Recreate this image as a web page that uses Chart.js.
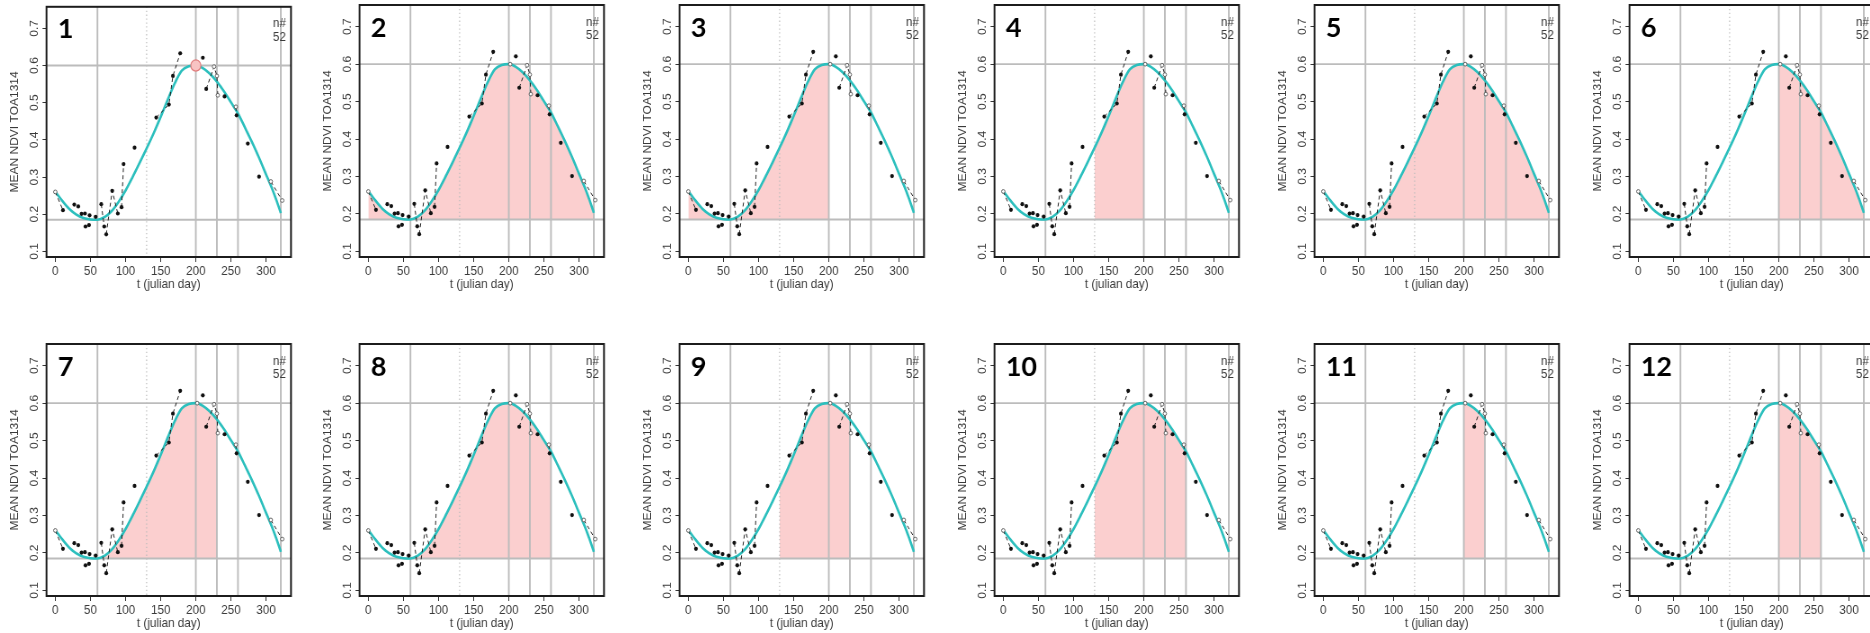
<!DOCTYPE html>
<html>
<head>
<meta charset="utf-8">
<title>Mean NDVI TOA1314 – seasonal integration windows</title>
<script src="https://cdn.jsdelivr.net/npm/chart.js@4/dist/chart.umd.min.js"></script>
<style>
  html, body { margin: 0; padding: 0; background: #fff; }
  body { position: relative; width: 1870px; height: 633px; overflow: hidden; }
  .panel { position: absolute; transform-origin: 0 0; }
  .panel canvas { display: block; }
</style>
</head>
<body>
<script>
// ---- observations (julian day, mean NDVI) ----
const obsDay  = [0, 10.9, 27, 32.7, 37.4, 42.2, 43, 48, 48.8, 57.4,
                 65.4, 69.7, 72.5, 81, 89, 94.3, 97.2, 112.8, 143.7, 161.7,
                 167.4, 177.8, 202, 210, 214.8, 226, 230, 231.3, 240.9, 257,
                 258, 274, 290, 306.8, 323];
const obsNdvi = [0.260, 0.211, 0.226, 0.221, 0.201, 0.202, 0.167, 0.171, 0.197, 0.193,
                 0.227, 0.167, 0.146, 0.263, 0.202, 0.219, 0.335, 0.379, 0.460, 0.495,
                 0.572, 0.633, 0.600, 0.621, 0.537, 0.597, 0.572, 0.520, 0.517, 0.489,
                 0.466, 0.390, 0.301, 0.288, 0.237];
// 1 = secondary acquisition (open symbol)
const obsOpen = [1, 0, 0, 0, 0, 0, 0, 0, 0, 0,
                 0, 0, 0, 0, 0, 0, 0, 0, 0, 0,
                 0, 0, 1, 0, 0, 1, 1, 1, 0, 1,
                 0, 0, 0, 1, 1];
// consecutive acquisitions joined by a line (indices into the observations)
const linkChains = [[0, 1], [10, 11], [12, 13, 14], [15, 16], [18, 19, 20, 21],
                    [24, 25, 26, 27], [29, 30], [33, 34]];
const sampleCount = '52';

// ---- fitted seasonal curve ----
const fitDay  = [0, 10, 20, 30, 40, 50, 60, 70, 80, 90,
                 100, 110, 120, 130, 140, 150, 160, 170, 180, 190,
                 200, 210, 220, 230, 240, 250, 260, 270, 280, 290,
                 300, 310, 320, 321];
const fitNdvi = [0.261, 0.236, 0.214, 0.199, 0.190, 0.186, 0.185, 0.192, 0.208, 0.233,
                 0.264, 0.300, 0.338, 0.377, 0.418, 0.462, 0.508, 0.552, 0.586, 0.598,
                 0.600, 0.593, 0.578, 0.557, 0.531, 0.501, 0.471, 0.433, 0.394, 0.352,
                 0.307, 0.262, 0.209, 0.203];

// ---- phenology markers ----
const guideDays   = [60, 130, 200, 230, 260, 321];
const guideDotted = [0, 1, 0, 0, 0, 0];
const guideNdvi   = [0.185, 0.6];          // base level, peak level
const baseNdvi    = guideNdvi[0];
const peakDay     = [200];
const peakNdvi    = [0.6];

// ---- panels: label and integration window [start, end] (null = no window) ----
const panelLabels = ['1', '2', '3', '4', '5', '6', '7', '8', '9', '10', '11', '12'];
const spanStart   = [null, 0, 0, 130, 60, 200, 60, 60, 130, 130, 200, 200];
const spanEnd     = [null, 321, 200, 200, 321, 321, 230, 260, 230, 260, 230, 260];

// ---- axes ----
const xTicks = [0, 50, 100, 150, 200, 250, 300];
const yTicks = [0.1, 0.2, 0.3, 0.4, 0.5, 0.6, 0.7];

// ---- page layout ----
const SX = 0.9;                 // horizontal compression of each panel
const CANVAS_W = 334, CANVAS_H = 300;
const AXIS_Y_W = 46.5 / SX;
const AXIS_X_H = 43;
const PLOT_W = 244.5 / SX;
const colLeft = [0, 313, 633, 948, 1268, 1583];
const rowTop = [0, 339];
const FONT = "'Liberation Sans', Arial, sans-serif";
const INK = '#3a3a3a';

const pts = (xs, ys) => xs.map((x, i) => ({ x, y: ys[i] }));

const fitPoints = pts(fitDay, fitNdvi);

const linkPoints = [];
linkChains.forEach((chain, c) => {
  if (c > 0) linkPoints.push({ x: obsDay[chain[0]], y: null });
  chain.forEach(k => linkPoints.push({ x: obsDay[k], y: obsNdvi[k] }));
});

const solidObs = [], openObs = [];
obsDay.forEach((d, i) => (obsOpen[i] ? openObs : solidObs).push({ x: d, y: obsNdvi[i] }));

const panelDecor = {
  id: 'panelDecor',
  afterDatasetDraw(chart, args) {
    if (chart.data.datasets[args.index].role !== 'span') return;
    const { ctx, chartArea: a, scales: { x, y } } = chart;
    ctx.save();
    ctx.beginPath();
    ctx.rect(a.left, a.top, a.width, a.height);
    ctx.clip();
    ctx.strokeStyle = '#bcbcbc';
    guideDays.forEach((d, i) => {
      const px = x.getPixelForValue(d);
      ctx.lineWidth = guideDotted[i] ? 1.2 : 1.9;
      ctx.setLineDash(guideDotted[i] ? [1.3, 2.6] : []);
      ctx.beginPath();
      ctx.moveTo(px, a.top);
      ctx.lineTo(px, a.bottom);
      ctx.stroke();
    });
    ctx.setLineDash([]);
    ctx.lineWidth = 1.9;
    guideNdvi.forEach(v => {
      const py = y.getPixelForValue(v);
      ctx.beginPath();
      ctx.moveTo(a.left, py);
      ctx.lineTo(a.right, py);
      ctx.stroke();
    });
    ctx.restore();
  },
  afterDraw(chart, args, opts) {
    const { ctx, chartArea: a } = chart;
    ctx.save();
    ctx.strokeStyle = '#1c1c1c';
    ctx.lineWidth = 2;
    ctx.strokeRect(a.left, a.top, a.width, a.height);

    ctx.fillStyle = INK;
    ctx.font = `13px ${FONT}`;
    ctx.textAlign = 'right';
    ctx.textBaseline = 'middle';
    ctx.fillText('n#', a.right - 5.5, a.top + 17);
    ctx.fillText(sampleCount, a.right - 5.5, a.top + 30.5);

    ctx.translate(a.left + 12.5, a.top + 31.5);
    ctx.scale(1 / SX, 1);
    ctx.fillStyle = '#000';
    ctx.font = `bold 27px Lato, 'Open Sans', sans-serif`;
    ctx.textAlign = 'left';
    ctx.textBaseline = 'alphabetic';
    ctx.fillText(opts.label, 0, 0);
    ctx.restore();
  }
};

function makePanel(i) {
  const wrap = document.createElement('div');
  wrap.className = 'panel';
  wrap.style.left = colLeft[i % 6] + 'px';
  wrap.style.top = rowTop[Math.floor(i / 6)] + 'px';
  wrap.style.transform = `scaleX(${SX})`;
  const cv = document.createElement('canvas');
  cv.width = CANVAS_W;
  cv.height = CANVAS_H;
  wrap.appendChild(cv);
  document.body.appendChild(wrap);

  const a = spanStart[i], b = spanEnd[i];
  const spanPoints = a === null ? [] : fitPoints.filter(p => p.x >= a && p.x <= b);

  const datasets = [
    {
      type: 'line', role: 'span', data: spanPoints,
      fill: { value: baseNdvi }, backgroundColor: '#fbcfcf',
      borderWidth: 0, pointRadius: 0, cubicInterpolationMode: 'monotone', order: 6
    },
    {
      type: 'line', data: fitPoints, borderColor: '#2cbfbd', borderWidth: 2.6,
      pointRadius: 0, fill: false, cubicInterpolationMode: 'monotone', order: 5
    },
    {
      type: 'line', data: linkPoints, borderColor: '#222', borderWidth: 1,
      borderDash: [4, 3], pointRadius: 0, fill: false, spanGaps: false, tension: 0, order: 4
    },
    {
      type: 'scatter', data: solidObs, pointRadius: 2.1, backgroundColor: '#111',
      borderWidth: 0, order: 3
    },
    {
      type: 'scatter', data: openObs, pointRadius: 1.9, backgroundColor: '#fff',
      borderColor: '#555', borderWidth: 0.9, order: 2
    }
  ];
  if (i === 0) {
    datasets.push({
      type: 'scatter', data: pts(peakDay, peakNdvi), pointRadius: 5.6,
      backgroundColor: '#f8c3c3', borderColor: '#e07a7a', borderWidth: 1.2, order: 1
    });
  }

  new Chart(cv, {
    type: 'scatter',
    data: { datasets },
    options: {
      responsive: false,
      animation: false,
      devicePixelRatio: 1,
      events: [],
      layout: { padding: { top: 5, right: CANVAS_W - AXIS_Y_W - PLOT_W, bottom: 0, left: 0 } },
      plugins: {
        legend: { display: false },
        tooltip: { enabled: false },
        panelDecor: { label: panelLabels[i] }
      },
      scales: {
        x: {
          type: 'linear', min: -12.5, max: 335.5,
          afterBuildTicks: s => { s.ticks = xTicks.map(v => ({ value: v })); },
          afterFit: s => { s.height = AXIS_X_H; s.paddingLeft = 0; s.paddingRight = 0; },
          grid: { display: true, drawOnChartArea: false, drawTicks: true, tickLength: 5, tickColor: '#333', tickWidth: 1 },
          border: { display: false },
          ticks: { autoSkip: false, minRotation: 0, maxRotation: 0, padding: 2, color: INK,
                   font: { size: 13, family: FONT }, callback: v => String(v) },
          title: { display: true, text: 't (julian day)', color: INK,
                   font: { size: 13, family: FONT }, padding: { top: 0, bottom: 8 } }
        },
        y: {
          type: 'linear', min: 0.085, max: 0.758,
          afterBuildTicks: s => { s.ticks = yTicks.map(v => ({ value: v })); },
          afterFit: s => { s.width = AXIS_Y_W; s.paddingTop = 0; s.paddingBottom = 0; },
          grid: { display: true, drawOnChartArea: false, drawTicks: true, tickLength: 4.4, tickColor: '#333', tickWidth: 1 },
          border: { display: false },
          ticks: { autoSkip: false, minRotation: 90, maxRotation: 90, crossAlign: 'center', padding: 0,
                   color: INK, font: { size: 12, family: FONT }, callback: v => v.toFixed(1) },
          title: { display: true, text: 'MEAN NDVI TOA1314', color: INK,
                   font: { size: 12, family: FONT }, padding: { top: 9.5, bottom: 0 } }
        }
      }
    },
    plugins: [panelDecor]
  });
}

for (let i = 0; i < 12; i++) makePanel(i);
</script>
</body>
</html>
